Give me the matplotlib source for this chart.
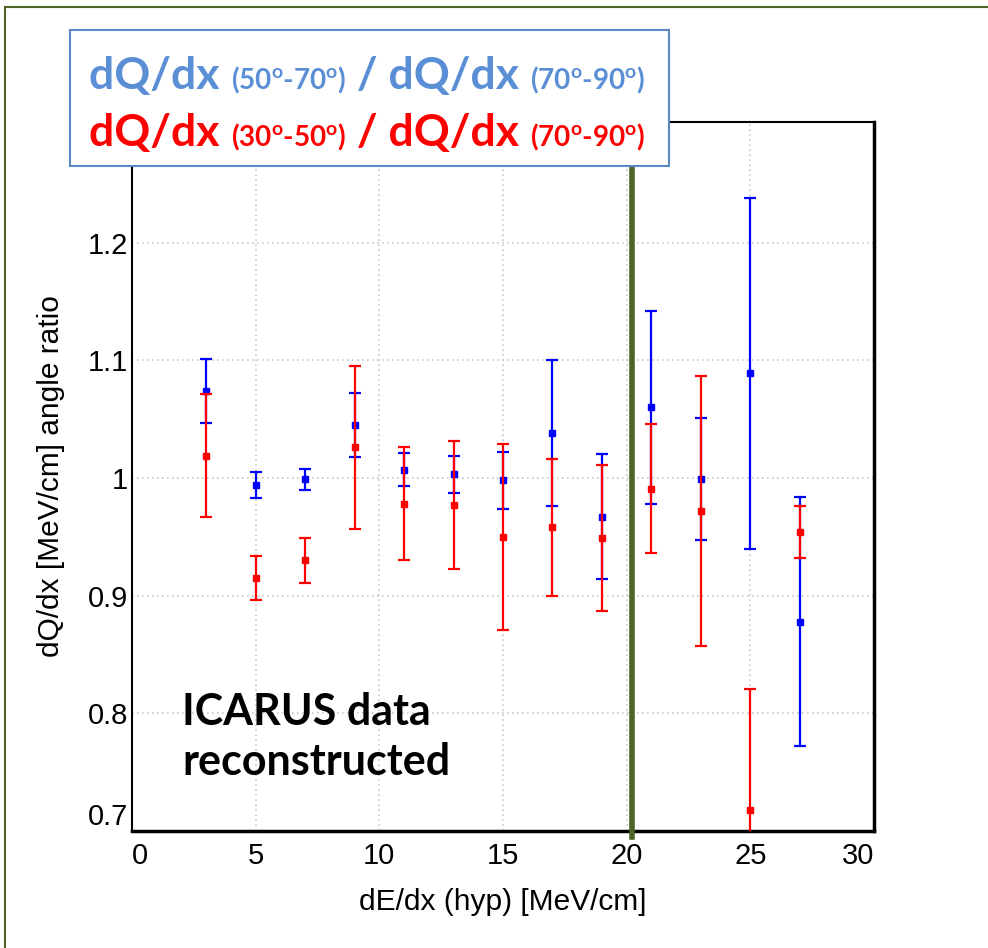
import matplotlib
matplotlib.use("Agg")
import matplotlib.pyplot as plt
from matplotlib.offsetbox import TextArea, HPacker, VPacker, AnchoredOffsetbox, DrawingArea
from matplotlib.lines import Line2D

# data
x = [3, 5, 7, 9, 11, 13, 15, 17, 19, 21, 23, 25, 27]
blue_y = [1.074, 0.994, 0.999, 1.045, 1.007, 1.003, 0.998, 1.038, 0.967, 1.060, 0.999, 1.089, 0.878]
blue_err = [0.027, 0.011, 0.009, 0.027, 0.014, 0.016, 0.024, 0.062, 0.053, 0.082, 0.052, 0.149, 0.106]
red_y = [1.019, 0.915, 0.930, 1.026, 0.978, 0.977, 0.950, 0.958, 0.949, 0.991, 0.972, 0.718, 0.954]
red_err = [0.052, 0.019, 0.019, 0.069, 0.048, 0.054, 0.079, 0.058, 0.062, 0.055, 0.115, 0.103, 0.022]
x_cut = 20.2
xticks = [0, 5, 10, 15, 20, 25, 30]
yticks = [0.7, 0.8, 0.9, 1.0, 1.1, 1.2]
ytick_labels = ["0.7", "0.8", "0.9", "1", "1.1", "1.2"]

plt.rcParams['font.family'] = ['Liberation Sans', 'DejaVu Sans']
plt.rcParams['mathtext.fontset'] = 'custom'
plt.rcParams['mathtext.rm'] = 'Lato:bold'
plt.rcParams['mathtext.it'] = 'Lato:bold'
plt.rcParams['mathtext.bf'] = 'Lato:bold'

fig = plt.figure(figsize=(9.88, 9.48), dpi=100)
ax = fig.add_axes([132 / 988, 1 - 831 / 948, 742 / 988, 709 / 948])

# outer slide border (left and top)
olive = '#4f6228'
fig.add_artist(Line2D([5 / 988, 5 / 988], [0, 1 - 7 / 948], transform=fig.transFigure, color=olive, lw=1.5))
fig.add_artist(Line2D([5 / 988, 1], [1 - 7 / 948, 1 - 7 / 948], transform=fig.transFigure, color=olive, lw=1.5))

ax.errorbar(x, blue_y, yerr=blue_err, fmt='s', color='#0000ff', ms=4.5, elinewidth=1.6,
            capsize=4, capthick=1.6, zorder=3)
ax.errorbar(x, red_y, yerr=red_err, fmt='s', color='#ff0000', ms=4.5, elinewidth=1.6,
            capsize=4, capthick=1.6, zorder=4)

ax.axvline(x_cut, ymin=-0.008, ymax=1, color=olive, lw=4, clip_on=False, zorder=5)

ax.set_xlim(0, 30)
ax.set_ylim(0.7, 1.3025)
ax.set_xticks(xticks)
ax.set_yticks(yticks)
ax.set_yticklabels(ytick_labels)
ax.tick_params(length=0, labelsize=21)
ax.tick_params(axis='x', pad=8)
ax.tick_params(axis='y', pad=3)
ax.grid(True, color='#c8c8c8', linestyle=(0, (1, 2)), lw=1.2)

# edge labels pushed inward like the original
xl = ax.get_xticklabels()
xl[0].set_horizontalalignment('left')
xl[-1].set_horizontalalignment('right')
yl = ax.get_yticklabels()
yl[0].set_verticalalignment('bottom')

for s in ax.spines.values():
    s.set_color('black')
    s.set_linewidth(1.5)
ax.spines['right'].set_linewidth(2.5)
ax.spines['bottom'].set_linewidth(2.5)

ax.set_xlabel('dE/dx (hyp) [MeV/cm]', fontsize=21.5, labelpad=13)
ax.set_ylabel('dQ/dx [MeV/cm] angle ratio', fontsize=21.5, labelpad=16)

ax.text(0.068, 0.196, 'ICARUS data\nreconstructed', transform=ax.transAxes, ha='left', va='top',
        fontsize=31, fontweight='bold', family='Lato', linespacing=1.3, zorder=6)

# legend box with mixed font sizes
c_blue = '#5a8fd6'
c_red = '#ff0000'


def piece(s, size, color):
    return TextArea(s, textprops=dict(fontsize=size, color=color, fontweight='bold', family='Lato'))


def row(a, b, color):
    return HPacker(children=[piece('dQ/dx ', 32, color),
                             piece('(%s$^\\mathrm{o}$-%s$^\\mathrm{o}$)' % a, 20, color),
                             piece(' / dQ/dx ', 32, color),
                             piece('(%s$^\\mathrm{o}$-%s$^\\mathrm{o}$)' % b, 20, color)],
                   align='baseline', pad=0, sep=0)


rows = VPacker(children=[row(('50', '70'), ('70', '90'), c_blue),
                         row(('30', '50'), ('70', '90'), c_red)],
               align='left', pad=0, sep=12)
# spacers (points) for uneven padding inside the frame
col = VPacker(children=[DrawingArea(1, 19), rows, DrawingArea(1, 9)], align='left', pad=0, sep=0)
box = HPacker(children=[DrawingArea(14, 1), col, DrawingArea(17, 1)], align='top', pad=0, sep=0)
leg = AnchoredOffsetbox(loc='upper left', child=box, pad=0, borderpad=0, frameon=True,
                        bbox_to_anchor=(70 / 988, 1 - 30 / 948), bbox_transform=fig.transFigure)
leg.patch.set_boxstyle('square', pad=0)
leg.patch.set_edgecolor('#5b87c5')
leg.patch.set_linewidth(1.5)
leg.set_zorder(10)
fig.add_artist(leg)

fig.savefig('out.png', dpi=100)
